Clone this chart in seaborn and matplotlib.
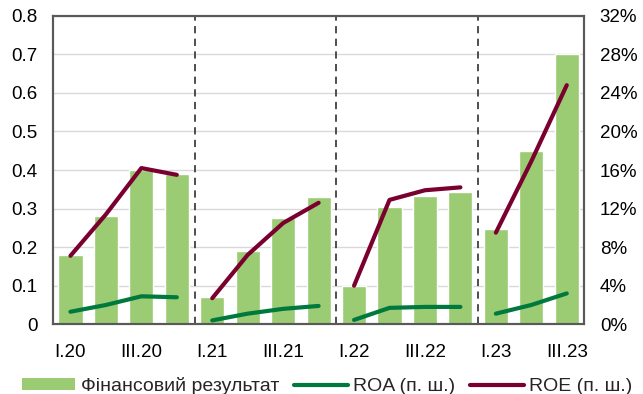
import numpy as np
import pandas as pd
import matplotlib
matplotlib.use("Agg")
import matplotlib.pyplot as plt
from matplotlib.patches import Patch
from matplotlib.lines import Line2D
from matplotlib.ticker import FuncFormatter
import seaborn as sns

# Quarterly data, 2020 Q1 – 2023 Q3
quarters = ["I.20", "II.20", "III.20", "IV.20",
            "I.21", "II.21", "III.21", "IV.21",
            "I.22", "II.22", "III.22", "IV.22",
            "I.23", "II.23", "III.23"]
years = ["2020"] * 4 + ["2021"] * 4 + ["2022"] * 4 + ["2023"] * 3
fin_result = [0.18, 0.28, 0.40, 0.39,
              0.07, 0.19, 0.275, 0.33,
              0.10, 0.305, 0.332, 0.343,
              0.246, 0.45, 0.70]
roa = [1.3, 2.0, 2.9, 2.8,
       0.4, 1.1, 1.6, 1.9,
       0.45, 1.7, 1.8, 1.8,
       1.1, 2.0, 3.2]
roe = [7.1, 11.4, 16.2, 15.5,
       2.7, 7.2, 10.5, 12.6,
       4.0, 12.9, 13.9, 14.2,
       9.5, 16.9, 24.8]
shown_ticks = ["I.20", "III.20", "I.21", "III.21", "I.22", "III.22", "I.23", "III.23"]

legend_labels = ["Фінансовий результат", "ROA (п. ш.)", "ROE (п. ш.)"]

BAR_C = "#9BCC73"
ROA_C = "#00793E"
ROE_C = "#7A0030"
SPINE_C = "#595959"
FS = 13.5
LEG_FS = 14

df = pd.DataFrame({"q": quarters, "pos": np.arange(len(quarters)),
                   "year": years, "fin": fin_result, "roa": roa, "roe": roe})

sns.set_theme(style="white")
plt.rcParams["font.family"] = ["Liberation Sans", "DejaVu Sans"]

fig = plt.figure(figsize=(6.43, 3.94), dpi=100)
ax = fig.add_axes([0.082, 0.177, 0.827, 0.783])

sns.barplot(data=df, x="q", y="fin", color=BAR_C, saturation=1,
            width=0.68, ax=ax, zorder=2)
ax.set_xlim(-0.5, len(quarters) - 0.5)
ax.set_ylim(0, 0.8)
ax.set_yticks(np.arange(0, 0.81, 0.1))
ax.yaxis.set_major_formatter(FuncFormatter(lambda v, p: "0" if v == 0 else f"{v:.1f}"))
ax.grid(axis="y", color="#D9D9D9", linewidth=1.0, zorder=0)
ax.set_axisbelow(True)
ax.set_xlabel("")
ax.set_ylabel("")

# Tick labels under every other quarter, tick marks between quarters
ax.set_xticks([quarters.index(t) for t in shown_ticks])
ax.set_xticklabels(shown_ticks)
ax.set_xticks(np.arange(0.5, len(quarters) - 0.5, 1), minor=True)
ax.tick_params(axis="x", which="major", length=0, pad=14, labelsize=FS, colors="black")
ax.tick_params(axis="x", which="minor", direction="in", length=4, width=1, color=SPINE_C)
ax.tick_params(axis="y", length=0, pad=11, labelsize=FS, colors="black")

# Year separators
for b in [3.5, 7.5, 11.5]:
    ax.axvline(b, color="#404040", linestyle=(0, (4, 3)), linewidth=1.3, zorder=3)

ax2 = ax.twinx()
for yr, sub in df.groupby("year"):
    sns.lineplot(data=sub, x="pos", y="roa", color=ROA_C, linewidth=3.0,
                 ax=ax2, legend=False, solid_capstyle="round", zorder=4)
    sns.lineplot(data=sub, x="pos", y="roe", color=ROE_C, linewidth=3.0,
                 ax=ax2, legend=False, solid_capstyle="round", zorder=4)
ax2.set_ylim(0, 32)
ax2.set_yticks(np.arange(0, 33, 4))
ax2.yaxis.set_major_formatter(FuncFormatter(lambda v, p: f"{v:.0f}%"))
ax2.tick_params(axis="y", length=0, pad=11, labelsize=FS, colors="black")
ax2.set_xlabel("")
ax2.set_ylabel("")
ax2.grid(False)
ax2.set_xlim(-0.5, len(quarters) - 0.5)

for a in (ax, ax2):
    for s in a.spines.values():
        s.set_visible(True)
        s.set_color(SPINE_C)
        s.set_linewidth(1.5)

handles = [Patch(facecolor=BAR_C, edgecolor="none"),
           Line2D([0], [0], color=ROA_C, linewidth=3.0),
           Line2D([0], [0], color=ROE_C, linewidth=3.0)]
fig.legend(handles, legend_labels, loc="center", bbox_to_anchor=(0.509, 0.02),
           ncol=3, frameon=False, fontsize=LEG_FS, handlelength=2.75, handleheight=0.6,
           handletextpad=0.3, columnspacing=0.75, borderaxespad=0)

fig.savefig("out.png", dpi=100)
